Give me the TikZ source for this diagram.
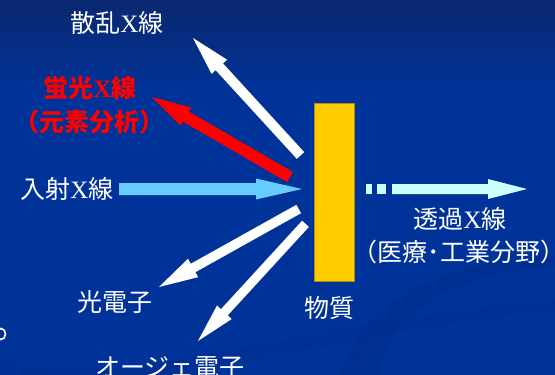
\documentclass[tikz,border=0pt]{standalone}
\usepackage{fontspec}
\setmainfont{Liberation Serif}
\newfontfamily\jp{Noto Sans CJK JP}
\usetikzlibrary{calc}
\definecolor{bgtop}{HTML}{0A2870}
\definecolor{bgmid}{HTML}{003399}
\definecolor{swoosh}{HTML}{002A85}
\definecolor{incid}{HTML}{66CCFF}
\definecolor{trans}{HTML}{CCFFFF}
\definecolor{matter}{HTML}{FFCC00}
\definecolor{fluor}{HTML}{FF0000}
\newcommand\Xc{{\rmfamily X}}
% color, tail, tip, shaft half width, head half width, head length
\newcommand\blockarrow[6]{%
  \coordinate (bh) at ($(#3)!#6!(#2)$);
  \fill[#1] ($(#2)!#4!90:(#3)$) -- ($(bh)!#4!90:(#3)$) -- ($(bh)!#5!90:(#3)$)
    -- (#3) -- ($(bh)!#5!-90:(#3)$) -- ($(bh)!#4!-90:(#3)$) -- ($(#2)!#4!-90:(#3)$) -- cycle;
}
\tikzset{
  lbl/.style={text=white, font=\jp\fontsize{25}{29}\selectfont, inner sep=0pt},
  redlbl/.style={text=fluor, font=\jp\bfseries\fontsize{25}{29}\selectfont, inner sep=0pt},
}
\begin{document}
\begin{tikzpicture}[x=1pt,y=-1pt]
\useasboundingbox (0,0) rectangle (555,375);
% background
\fill[bgmid] (0,0) rectangle (555,375);
\shade[top color=bgtop, bottom color=bgmid] (0,0) rectangle (555,95);
\fill[swoosh, opacity=0.35] (340,375) .. controls (360,300) and (440,262) .. (555,256)
  -- (555,266) .. controls (460,272) and (390,310) .. (380,375) -- cycle;
\fill[swoosh, opacity=0.25] (0,360) .. controls (120,395) and (250,330) .. (555,300)
  -- (555,310) .. controls (260,345) and (130,400) .. (0,372) -- cycle;
\draw[swoosh, opacity=0.6, line width=1.2pt] (190,290) .. controls (195,245) and (260,225) .. (330,225);
\draw[swoosh, opacity=0.5, line width=1pt] (230,315) .. controls (280,325) and (320,345) .. (360,360);
% left-edge fragment
\draw[white, line width=1.6pt] (1,334) ellipse (4.5 and 5.5);

% material
\node[fill=matter, draw=matter!70!black, line width=0.4pt, minimum width=40pt, minimum height=178pt, inner sep=0pt] (mat) at (334,192) {};

% coordinates
\coordinate (inT) at (119,189);   \coordinate (inP) at (302,189);
\coordinate (scT) at (300.5,155.5); \coordinate (scP) at (193,38);
\coordinate (flT) at (290,177);   \coordinate (flP) at (152,97);
\coordinate (peT) at (298.7,209); \coordinate (peP) at (159,287);
\coordinate (auT) at (305.5,223.8); \coordinate (auP) at (198,341);
\coordinate (trT) at (392,189);   \coordinate (trP) at (527,189);

% arrows
\blockarrow{incid}{inT}{inP}{6pt}{10.5pt}{46pt}
\blockarrow{white}{scT}{scP}{5pt}{10.5pt}{39pt}
\blockarrow{fluor}{flT}{flP}{5.8pt}{10.5pt}{39pt}
\blockarrow{white}{peT}{peP}{4.8pt}{10.5pt}{39pt}
\blockarrow{white}{auT}{auP}{4.6pt}{10pt}{39pt}
\blockarrow{trans}{trT}{trP}{5pt}{10pt}{39pt}
\fill[trans] (366,184) rectangle (372,194);
\fill[trans] (377,184) rectangle (386,194);

% labels
\node[lbl] (lsc) at (117,23) {散乱\Xc 線};
\node[redlbl] (lfl1) at (90,88) {蛍光\Xc 線};
\node[redlbl] (lfl2) at (90,122) {（元素分析）};
\node[lbl] (lin) at (67,189) {入射\Xc 線};
\node[lbl] (lpe) at (115,302) {光電子};
\node[lbl] (lau) at (170,368) {オージェ電子};
\node[lbl] (lmat) at (329,308) {物質};
\node[lbl] (ltr1) at (460,219) {透過\Xc 線};
\node[lbl] (ltr2) at (459,252) {（医療･工業分野）};
\end{tikzpicture}
\end{document}
